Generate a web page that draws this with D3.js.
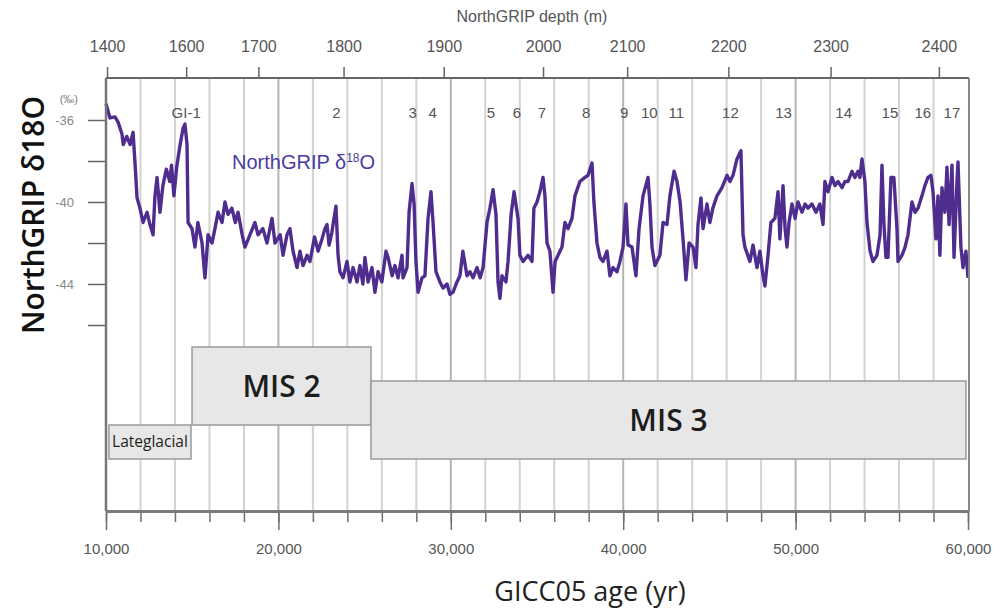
<!DOCTYPE html>
<html>
<head>
<meta charset="utf-8">
<script src="https://cdn.jsdelivr.net/npm/d3@7"></script>
<style>
  body { margin: 0; background: #fff; }
  svg { display: block; font-family: "Liberation Sans", Arial, sans-serif; }
</style>
</head>
<body>
<div id="chart"></div>
<script>
// GICC05 age in ka and NorthGRIP d18O (permil)
var ageKa = [10.0, 10.23, 10.52, 10.7, 10.93, 11.0, 11.2, 11.4, 11.57, 11.68, 11.8, 11.97, 12.15, 12.38, 12.55, 12.73, 12.84, 12.96, 13.13, 13.3,
  13.5, 13.7, 13.8, 13.94, 14.1, 14.3, 14.47, 14.58, 14.7, 14.76, 14.99, 15.16, 15.33, 15.57, 15.74, 15.92, 16.15, 16.32, 16.5, 16.73,
  16.9, 17.08, 17.3, 17.5, 17.66, 17.9, 18.06, 18.35, 18.64, 18.82, 19.1, 19.34, 19.63, 19.8, 20.1, 20.27, 20.5, 20.67, 20.85, 21.08,
  21.25, 21.43, 21.66, 21.83, 22.1, 22.3, 22.53, 22.7, 22.82, 22.94, 23.1, 23.17, 23.34, 23.46, 23.57, 23.75, 23.98, 24.15, 24.33, 24.56,
  24.73, 24.9, 25.02, 25.2, 25.43, 25.6, 25.78, 26.0, 26.24, 26.36, 26.6, 26.76, 26.94, 27.17, 27.23, 27.46, 27.58, 27.75, 27.87, 27.98,
  28.1, 28.33, 28.5, 28.68, 28.85, 28.97, 29.14, 29.37, 29.55, 29.78, 29.95, 30.13, 30.36, 30.53, 30.7, 30.94, 31.11, 31.29, 31.52, 31.7,
  31.87, 32.1, 32.27, 32.45, 32.62, 32.74, 32.85, 32.97, 33.2, 33.32, 33.5, 33.67, 33.9, 34.01, 34.19, 34.48, 34.71, 34.82, 35.0, 35.17,
  35.35, 35.46, 35.58, 35.75, 35.93, 36.05, 36.22, 36.45, 36.62, 36.8, 37.03, 37.2, 37.49, 37.78, 37.96, 38.19, 38.3, 38.48, 38.65, 38.83,
  39.06, 39.23, 39.41, 39.64, 39.81, 39.99, 40.16, 40.28, 40.51, 40.74, 40.92, 41.15, 41.44, 41.55, 41.67, 41.84, 42.13, 42.31, 42.54, 42.71,
  42.95, 43.12, 43.3, 43.47, 43.64, 43.82, 44.05, 44.22, 44.34, 44.51, 44.63, 44.86, 45.03, 45.2, 45.44, 45.73, 46.02, 46.19, 46.37, 46.6,
  46.83, 46.95, 47.06, 47.35, 47.53, 47.76, 47.93, 48.11, 48.22, 48.4, 48.57, 48.8, 48.98, 49.09, 49.27, 49.39, 49.5, 49.62, 49.79, 49.97,
  50.14, 50.37, 50.55, 50.72, 50.95, 51.18, 51.41, 51.59, 51.7, 51.88, 52.11, 52.28, 52.46, 52.69, 52.86, 53.04, 53.27, 53.44, 53.62, 53.73,
  53.85, 54.02, 54.14, 54.32, 54.49, 54.72, 54.9, 55.01, 55.12, 55.24, 55.36, 55.53, 55.7, 55.88, 55.94, 56.17, 56.35, 56.52, 56.75, 56.93,
  57.1, 57.33, 57.5, 57.68, 57.85, 57.97, 58.14, 58.26, 58.37, 58.49, 58.66, 58.78, 58.9, 59.07, 59.19, 59.36, 59.42, 59.59, 59.71, 59.88,
  60.0];
var d18O = [-35.2, -35.9, -35.85, -36.1, -36.7, -37.2, -36.8, -37.2, -36.6, -38.05, -39.8, -40.3, -41.0, -40.5, -41.1, -41.6, -39.7, -38.8, -40.5, -39.2,
  -38.4, -39.0, -38.2, -39.7, -38.3, -37.2, -36.4, -36.2, -37.2, -41.0, -41.3, -42.2, -41.0, -42.0, -43.7, -41.6, -42.0, -41.3, -40.5, -41.0,
  -40.0, -40.6, -40.3, -41.0, -40.5, -41.6, -42.2, -41.6, -41.0, -41.6, -41.3, -42.0, -40.8, -42.0, -41.6, -42.6, -41.6, -41.3, -42.4, -43.2,
  -42.4, -43.1, -42.6, -42.9, -41.7, -42.4, -41.8, -41.3, -41.1, -42.1, -41.5, -41.1, -40.2, -42.6, -43.4, -43.7, -42.9, -43.9, -43.2, -43.9,
  -43.1, -44.0, -42.7, -43.9, -43.2, -44.4, -43.4, -43.9, -42.4, -42.7, -43.6, -43.1, -43.7, -42.6, -43.7, -43.2, -40.5, -39.1, -40.1, -42.9,
  -44.4, -43.7, -43.6, -40.8, -39.5, -41.0, -43.4, -43.9, -44.2, -44.0, -44.5, -44.4, -43.9, -43.6, -42.4, -43.6, -43.4, -43.7, -43.2, -43.7,
  -43.2, -41.0, -40.3, -39.4, -40.6, -43.9, -44.7, -43.6, -43.9, -42.9, -40.6, -39.5, -40.8, -42.6, -42.9, -42.6, -42.9, -40.3, -40.0, -39.5,
  -38.8, -39.7, -42.0, -42.4, -44.4, -42.9, -42.6, -42.2, -41.0, -41.3, -40.8, -39.7, -39.0, -38.8, -38.7, -38.1, -40.0, -42.0, -42.7, -42.9,
  -42.4, -43.6, -43.2, -43.4, -42.9, -42.2, -40.1, -42.1, -42.2, -43.6, -41.3, -39.7, -38.8, -40.1, -42.2, -43.1, -42.6, -41.0, -41.1, -39.7,
  -38.5, -39.0, -40.0, -41.8, -43.8, -42.0, -42.2, -43.2, -41.1, -39.8, -41.3, -40.1, -41.0, -40.3, -39.7, -39.3, -38.7, -39.0, -38.7, -37.9,
  -37.5, -41.6, -42.2, -42.9, -42.1, -43.2, -42.4, -43.6, -44.1, -42.6, -41.0, -40.8, -39.5, -41.8, -39.2, -41.3, -42.2, -41.0, -40.1, -40.8,
  -40.0, -40.5, -40.1, -40.3, -40.1, -40.5, -40.1, -41.1, -39.0, -39.5, -38.8, -39.2, -39.0, -39.3, -39.0, -39.0, -38.5, -38.8, -38.5, -38.8,
  -37.9, -39.0, -41.0, -42.4, -42.9, -42.6, -41.6, -38.2, -41.0, -42.7, -42.7, -38.8, -38.8, -41.3, -42.9, -42.6, -42.2, -41.6, -40.0, -40.5,
  -40.3, -39.7, -39.2, -38.8, -38.7, -39.5, -41.8, -39.7, -42.6, -39.3, -40.5, -38.3, -41.1, -38.2, -42.7, -39.0, -38.05, -42.2, -43.2, -42.4,
  -43.7];

// Greenland interstadial numbers and where they sit in age (ka)
var eventNames = ["GI-1", "2", "3", "4", "5", "6", "7", "8", "9", "10", "11", "12", "13", "14", "15", "16", "17"];
var eventAgeKa = [14.65, 23.37, 27.79, 28.95, 32.33, 33.84, 35.29, 37.85, 40.06, 41.51, 43.08, 46.22, 49.3, 52.79, 55.47, 57.38, 59.07];

// top axis: NorthGRIP depth (m) and the age each depth falls on
var depthTicks = [1400, 1600, 1700, 1800, 1900, 2000, 2100, 2200, 2300, 2400];
var depthAgeKa = [10.06, 14.65, 18.84, 23.78, 29.59, 35.35, 40.23, 46.10, 52.03, 58.31];

var ageLabelTicks = [10, 20, 30, 40, 50, 60];
var d18OTicks = [-36, -38, -40, -42, -44, -46];
var d18OLabelTicks = [-36, -40, -44];

// marine isotope stages
var misNames = ["Lateglacial", "MIS 2", "MIS 3"];
var misStartKa = [10.17, 14.99, 25.37];
var misEndKa = [14.93, 25.37, 59.88];

function IceCoreChart(append_to) {
  var that = {};
  that.margin = {top: 78, right: 32, bottom: 104, left: 106};
  that.width = 1001 - that.margin.left - that.margin.right;
  that.height = 615 - that.margin.top - that.margin.bottom;

  that.x = d3.scaleLinear().domain([10, 60]).range([0, that.width - 1]);
  that.y = d3.scaleLinear().domain([-36, -44]).range([42, 206]);
  that.depth = d3.scaleLinear().domain(depthTicks).range(depthAgeKa.map(that.x));

  that.root = d3.select(append_to).append("svg")
    .attr("width", 1001)
    .attr("height", 615)
    .style("background", "#fff");
  that.svg = that.root.append("g")
    .attr("transform", "translate(" + that.margin.left + "," + that.margin.top + ")");

  // vertical grid every 2 ka
  that.svg.append("g").selectAll("line")
    .data(d3.range(12, 60, 2))
    .enter().append("line")
    .attr("x1", function(d) { return that.x(d); })
    .attr("x2", function(d) { return that.x(d); })
    .attr("y1", 0)
    .attr("y2", that.height)
    .attr("stroke", function(d) { return d % 10 === 0 ? "#b4b4b4" : "#d2d2d2"; })
    .attr("stroke-width", 2);

  // stage boxes (layout rows in px)
  var boxTop = [347, 269, 303], boxBottom = [381, 347, 381];
  var stages = misNames.map(function(n, i) {
    return {name: n, x0: misStartKa[i], x1: misEndKa[i], top: boxTop[i], bottom: boxBottom[i]};
  });
  var sg = that.svg.append("g").selectAll("g").data(stages).enter().append("g");
  sg.append("rect")
    .attr("x", function(d) { return that.x(d.x0); })
    .attr("width", function(d) { return that.x(d.x1) - that.x(d.x0); })
    .attr("y", function(d) { return d.top; })
    .attr("height", function(d) { return d.bottom - d.top; })
    .attr("fill", "#e7e7e7")
    .attr("stroke", "#9a9a9a")
    .attr("stroke-width", 1.5);
  sg.append("text")
    .attr("x", function(d) { return (that.x(d.x0) + that.x(d.x1)) / 2; })
    .attr("y", function(d) { return (d.top + d.bottom) / 2; })
    .attr("dy", "0.35em")
    .attr("text-anchor", "middle")
    .style("font-family", "'Open Sans', sans-serif")
    .style("font-size", function(d) { return d.name === "Lateglacial" ? "15.5px" : "30px"; })
    .style("font-weight", function(d) { return d.name === "Lateglacial" ? 400 : 600; })
    .attr("fill", "#1d1d1d")
    .text(function(d) { return d.name; });

  // interstadial labels
  that.svg.append("g").selectAll("text")
    .data(eventNames)
    .enter().append("text")
    .attr("x", function(d, i) { return that.x(eventAgeKa[i]); })
    .attr("y", 40)
    .attr("text-anchor", "middle")
    .style("font-size", "15px")
    .attr("fill", "#555")
    .text(function(d) { return d; });

  // d18O curve
  var data = d3.zip(ageKa, d18O);
  that.line = d3.line()
    .x(function(d) { return that.x(d[0]); })
    .y(function(d) { return that.y(d[1]); });
  that.svg.append("path")
    .datum(data)
    .attr("class", "line")
    .attr("d", that.line)
    .attr("fill", "none")
    .attr("stroke", "#4f2d8f")
    .attr("stroke-width", 3.4)
    .attr("stroke-linejoin", "round");

  var lab = that.svg.append("text")
    .attr("x", 126)
    .attr("y", 91)
    .style("font-size", "20px")
    .attr("fill", "#4b3c9e");
  lab.append("tspan").text("NorthGRIP \u03b4");
  lab.append("tspan").attr("dy", -7).style("font-size", "12px").text("18");
  lab.append("tspan").attr("dy", 7).text("O");

  // bottom axis: minor ticks then labelled ticks
  var bx = that.svg.append("g").attr("transform", "translate(0," + that.height + ")");
  bx.append("g")
    .call(d3.axisBottom(that.x).tickValues(d3.range(10, 61, 2)).tickSize(11).tickSizeOuter(0).tickFormat(""));
  bx.append("g")
    .call(d3.axisBottom(that.x).tickValues(ageLabelTicks).tickSize(19).tickSizeOuter(0).tickPadding(13)
      .tickFormat(function(d) { return d3.format(",")(d * 1000); }));
  bx.selectAll(".domain").attr("stroke", "#7a7a7a").attr("stroke-width", 3);
  bx.selectAll(".tick line").attr("stroke", "#6f6f6f").attr("stroke-width", 1.5);
  bx.selectAll(".tick text").style("font-size", "15px").style("font-family", "'Liberation Sans Narrow', 'Liberation Sans', Arial").attr("fill", "#555");

  // top axis: depth
  var tx = that.svg.append("g")
    .call(d3.axisTop(that.depth).tickValues(depthTicks).tickSize(11).tickSizeOuter(0).tickPadding(15)
      .tickFormat(d3.format("d")));
  tx.select(".domain").remove();
  tx.selectAll(".tick line").attr("stroke", "#666").attr("stroke-width", 1.5);
  tx.selectAll(".tick text").style("font-size", "16px").attr("fill", "#555");

  // left axis
  var ly = that.svg.append("g")
    .call(d3.axisLeft(that.y).tickValues(d18OTicks).tickSize(18).tickPadding(14)
      .tickFormat(function(d) { return d18OLabelTicks.indexOf(d) >= 0 ? d : ""; }));
  ly.select(".domain").remove();
  ly.selectAll(".tick line").attr("stroke", "#666").attr("stroke-width", 1.5);
  ly.selectAll(".tick text").style("font-size", "13px").attr("fill", "#888");

  // frame
  var f = that.svg.append("g").attr("fill", "none");
  f.append("line").attr("x1", 0).attr("x2", that.width).attr("y1", 0).attr("y2", 0).attr("stroke", "#666").attr("stroke-width", 2);
  f.append("line").attr("x1", 0).attr("x2", 0).attr("y1", 0).attr("y2", that.height).attr("stroke", "#777").attr("stroke-width", 2.5);
  f.append("line").attr("x1", that.x(60) + 1).attr("x2", that.x(60) + 1).attr("y1", 0).attr("y2", that.height).attr("stroke", "#888").attr("stroke-width", 2);

  // titles
  that.svg.append("text")
    .attr("x", -28).attr("y", 25)
    .attr("text-anchor", "end")
    .style("font-size", "11px")
    .attr("fill", "#777")
    .text("(\u2030)");
  that.root.append("text")
    .attr("x", 532).attr("y", 22)
    .attr("text-anchor", "middle")
    .style("font-size", "16px")
    .attr("fill", "#555")
    .text("NorthGRIP depth (m)");
  that.root.append("text")
    .attr("x", 590).attr("y", 601)
    .attr("text-anchor", "middle")
    .style("font-family", "'Open Sans', sans-serif")
    .style("font-size", "27px")
    .attr("fill", "#222")
    .text("GICC05 age (yr)");
  that.root.append("text")
    .attr("transform", "translate(44,215) rotate(-90)")
    .attr("text-anchor", "middle")
    .style("font-family", "'Open Sans', sans-serif")
    .style("font-size", "30px")
    .style("font-weight", 600)
    .attr("fill", "#111")
    .text("NorthGRIP \u03b418O");

  return that;
}

IceCoreChart("#chart");
</script>
</body>
</html>
